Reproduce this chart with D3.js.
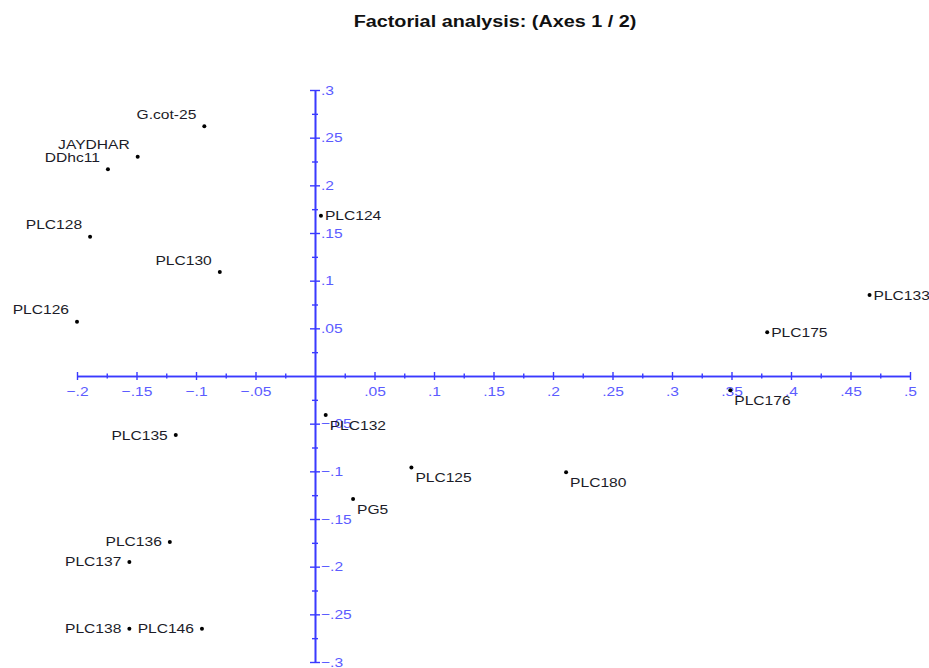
<!DOCTYPE html>
<html>
<head>
<meta charset="utf-8">
<script src="https://cdn.jsdelivr.net/npm/d3@7"></script>
<style>
  body { margin: 0; background: #fff; }
  svg { display: block; font-family: Arial, "Liberation Sans", sans-serif; }
</style>
</head>
<body>
<svg id="chart" width="929" height="668"></svg>
<script>
// observations (factor scores on axes 1 / 2)
const names = ['G.cot-25', 'JAYDHAR', 'DDhc11', 'PLC128', 'PLC130', 'PLC126', 'PLC124',
    'PLC133', 'PLC175', 'PLC176', 'PLC132', 'PLC125', 'PLC180', 'PG5',
    'PLC135', 'PLC136', 'PLC137', 'PLC138', 'PLC146'];
const axis1 = [-0.093, -0.149, -0.174, -0.189, -0.080, -0.200, 0.005,
    0.466, 0.380, 0.349, 0.009, 0.081, 0.211, 0.032,
    -0.117, -0.122, -0.156, -0.156, -0.095];
const axis2 = [0.262, 0.230, 0.217, 0.146, 0.109, 0.057, 0.168,
    0.085, 0.046, -0.015, -0.041, -0.096, -0.101, -0.129,
    -0.062, -0.174, -0.195, -0.265, -0.265];
// where each label sits relative to its point
const labelSide = ['ul', 'ul', 'ul', 'ul', 'ul', 'ul', 'r',
    'r', 'r', 'lr', 'lr', 'lr', 'lr', 'lr',
    'l', 'l', 'l', 'l', 'l'];

const xTicks = [-0.2, -0.15, -0.1, -0.05, 0.05, 0.1, 0.15, 0.2, 0.25, 0.3, 0.35, 0.4, 0.45, 0.5];
const yTicks = [-0.3, -0.25, -0.2, -0.15, -0.1, -0.05, 0.05, 0.1, 0.15, 0.2, 0.25, 0.3];
const xMinor = [-0.175, -0.125, -0.075, -0.025, 0.025, 0.075, 0.125, 0.175, 0.225, 0.275, 0.325, 0.375, 0.425, 0.475];
const yMinor = [-0.275, -0.225, -0.175, -0.125, -0.075, -0.025, 0.025, 0.075, 0.125, 0.175, 0.225, 0.275];

const axisColor = '#3a3aff';
const tickTextColor = '#5c5cff';
const stretch = 1.2; // the original's text is drawn wide

const svg = d3.select('#chart');

svg.append('text')
    .attr('transform', `translate(495, 27) scale(${stretch}, 1)`)
    .attr('text-anchor', 'middle')
    .attr('font-size', 16.5)
    .attr('font-weight', 'bold')
    .attr('fill', '#111')
    .text('Factorial analysis: (Axes 1 / 2)');

let xScale = d3.scaleLinear().domain([-0.2, 0.5]).range([77, 910]);
let yScale = d3.scaleLinear().domain([-0.3, 0.3]).range([662, 90]);

// strip the leading zero like ".05" / "-.2"
const fmt = d => d3.format('.2~f')(d).replace('0.', '.');

// x axis through y = 0
let xAxisG = svg.append('g')
    .attr('transform', `translate(0, ${yScale(0)})`);
xAxisG.call(d3.axisBottom(xScale).tickValues(xTicks).tickFormat(fmt).tickSizeOuter(0));
svg.append('g')
    .attr('class', 'x-minor')
    .attr('transform', `translate(0, ${yScale(0)})`)
    .call(d3.axisBottom(xScale).tickValues(xMinor).tickFormat('').tickSizeOuter(0));

// y axis through x = 0
let yAxisG = svg.append('g')
    .attr('transform', `translate(${xScale(0)}, 0)`);
yAxisG.call(d3.axisRight(yScale).tickValues(yTicks).tickFormat(fmt).tickSizeOuter(0));
svg.append('g')
    .attr('class', 'y-minor')
    .attr('transform', `translate(${xScale(0)}, 0)`)
    .call(d3.axisRight(yScale).tickValues(yMinor).tickFormat('').tickSizeOuter(0));

svg.selectAll('.domain').attr('stroke', axisColor).attr('stroke-width', 1.6);
svg.selectAll('.tick line').attr('stroke', axisColor).attr('stroke-width', 1.4);

xAxisG.selectAll('.tick line').attr('y1', -4).attr('y2', 4);
svg.select('.x-minor').selectAll('.tick line').attr('y1', -2.5).attr('y2', 2.5);
yAxisG.selectAll('.tick line').attr('x1', -5).attr('x2', 5);
svg.select('.y-minor').selectAll('.tick line').attr('x1', -3).attr('x2', 3);

xAxisG.selectAll('.tick text')
    .attr('y', null)
    .attr('dy', '0.35em')
    .attr('transform', `translate(0, 15) scale(${stretch}, 1)`)
    .attr('font-size', 13)
    .attr('font-family', 'Arial, "Liberation Sans", sans-serif')
    .attr('fill', tickTextColor);
yAxisG.selectAll('.tick text')
    .attr('x', null)
    .attr('transform', `translate(6, 0) scale(${stretch}, 1)`)
    .attr('font-size', 13)
    .attr('font-family', 'Arial, "Liberation Sans", sans-serif')
    .attr('fill', tickTextColor);

// points
let points = names.map((n, i) => ({ name: n, x: axis1[i], y: axis2[i], side: labelSide[i] }));

let pointG = svg.append('g');
pointG.selectAll('circle')
    .data(points)
    .join('circle')
    .attr('cx', d => xScale(d.x))
    .attr('cy', d => yScale(d.y))
    .attr('r', 2)
    .attr('fill', '#000');

pointG.selectAll('text')
    .data(points)
    .join('text')
    .attr('font-size', 13)
    .attr('fill', '#1c1c28')
    .attr('text-anchor', d => (d.side === 'l' || d.side === 'ul') ? 'end' : 'start')
    .attr('transform', d => {
        let tx = (d.side === 'l' || d.side === 'ul') ? xScale(d.x) - 8 : xScale(d.x) + 4;
        let ty = yScale(d.y);
        if (d.side === 'ul') ty -= 12;
        if (d.side === 'lr') ty += 10;
        return `translate(${tx}, ${ty}) scale(${stretch}, 1)`;
    })
    .attr('dy', '0.35em')
    .text(d => d.name);
</script>
</body>
</html>
